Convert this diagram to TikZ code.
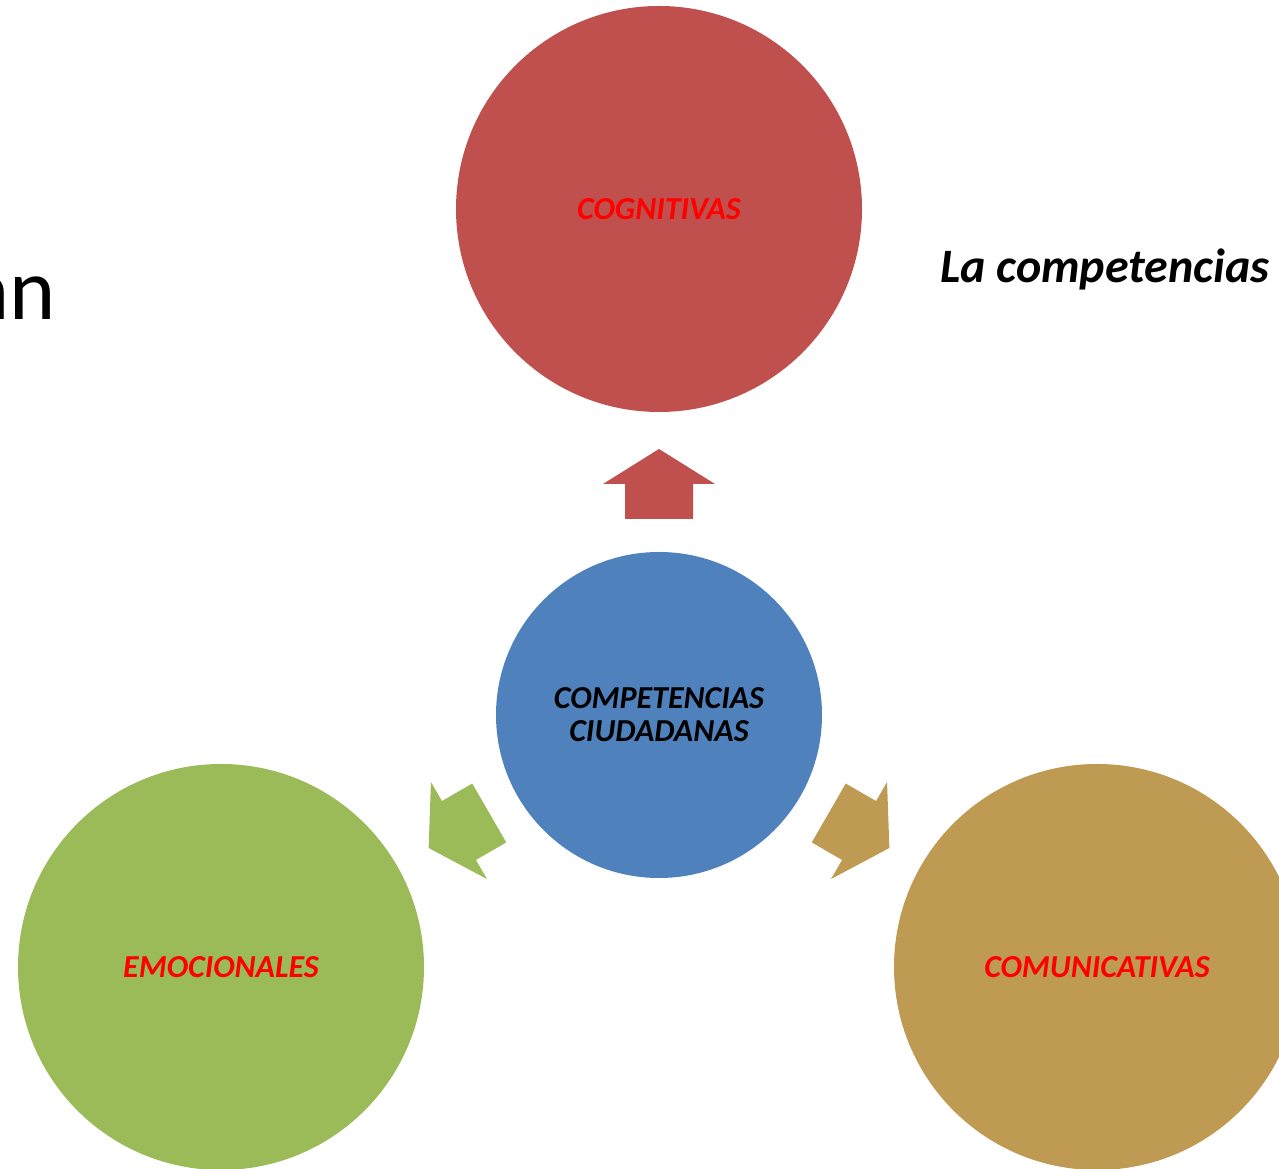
\documentclass[tikz,border=0pt]{standalone}
\usepackage{fontspec}
\setmainfont{Carlito}
\definecolor{cred}{HTML}{C0504D}
\definecolor{cblue}{HTML}{4F81BD}
\definecolor{cgreen}{HTML}{9BBB59}
\definecolor{ctan}{HTML}{BE9A53}
\definecolor{lblred}{HTML}{FF0000}
\tikzset{
  bubble/.style={circle, inner sep=0pt, outer sep=0pt},
  lbl/.style={font=\fontsize{32}{33}\selectfont\bfseries\itshape, align=center, inner sep=0pt}
}
\begin{document}
\begin{tikzpicture}[x=1pt,y=1pt]
\useasboundingbox (0,0) rectangle (1279,1169);
% circles
\node[bubble, fill=cred, minimum size=406pt] (cog) at (659,960) {};
\node[bubble, fill=cblue, minimum size=326pt] (cc) at (659,454) {};
\node[bubble, fill=cgreen, minimum size=406pt] (emo) at (221,202) {};
\node[bubble, fill=ctan, minimum size=406pt] (com) at (1097,202) {};
% arrows (same shape rotated about the centre circle)
\foreach \ang/\col in {0/cred, 120/cgreen, -120/ctan}{
  \begin{scope}[shift={(cc.center)}, rotate=\ang]
    \fill[\col] (0,266) -- (56,231) -- (34,231) -- (34,196) -- (-34,196) -- (-34,231) -- (-56,231) -- cycle;
  \end{scope}
}
% labels
\node[lbl, text=lblred] (tcog) at (cog.center) {COGNITIVAS};
\node[lbl, text=black] (tcc) at (cc.center) {COMPETENCIAS\\CIUDADANAS};
\node[lbl, text=lblred] (temo) at (emo.center) {EMOCIONALES};
\node[lbl, text=lblred] (tcom) at (com.center) {COMUNICATIVAS};
% side texts
\node[anchor=base west, inner sep=0pt, font=\fontsize{48}{54}\selectfont\bfseries\itshape] (lac) at (940,886) {La competencias};
\node[anchor=base east, inner sep=0pt, font=\fontsize{88}{100}\selectfont] (an) at (56,849) {an};
\end{tikzpicture}
\end{document}
